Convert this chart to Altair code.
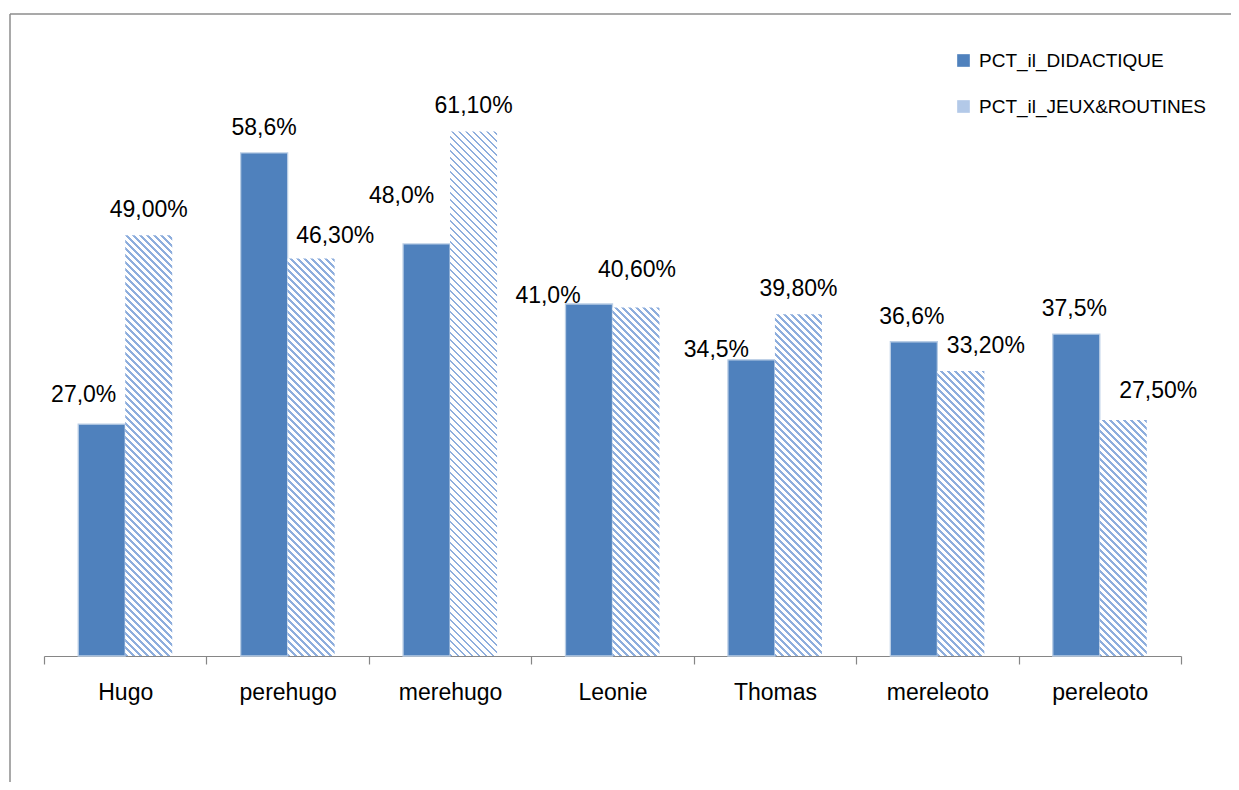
import altair as alt
import pandas as pd

categories = ["Hugo", "perehugo", "merehugo", "Leonie", "Thomas", "mereleoto", "pereleoto"]
series_names = ["PCT_il_DIDACTIQUE", "PCT_il_JEUX&ROUTINES"]
didactique = [27.0, 58.6, 48.0, 41.0, 34.5, 36.6, 37.5]
jeux_routines = [49.0, 46.3, 61.1, 40.6, 39.8, 33.2, 27.5]
didactique_labels = ["27,0%", "58,6%", "48,0%", "41,0%", "34,5%", "36,6%", "37,5%"]
jeux_routines_labels = ["49,00%", "46,30%", "61,10%", "40,60%", "39,80%", "33,20%", "27,50%"]

# hand-placed label nudges in the source chart (px: dx, dy)
didactique_nudge = [(-18, -4), (0, 0), (-25, -23), (-41, 17), (-35, 15), (-2, 0), (-2, 0)]
jeux_nudge = [(0, 0), (24, 3), (0, 0), (1, -12), (0, 0), (25, 0), (35, -4)]

rows = []
for i, c in enumerate(categories):
    rows.append(dict(cat=c, series=series_names[0], value=didactique[i],
                     label=didactique_labels[i], idx=i))
    rows.append(dict(cat=c, series=series_names[1], value=jeux_routines[i],
                     label=jeux_routines_labels[i], idx=i))
df = pd.DataFrame(rows)

W, H, YMAX = 1137, 601, 70
OUTER = 0.728
SUB_W = W / len(categories) / (2 + 2 * OUTER)
FONT = "Liberation Sans"
BLUE = "#4F81BD"
STRIPE = "#8EAEDD"
PERIOD = 7.0
STRIPE_FRAC = 0.4

x_enc = alt.X("cat:N", sort=categories, title=None,
              scale=alt.Scale(paddingInner=0, paddingOuter=0),
              axis=alt.Axis(labelAngle=0, labelFont=FONT, labelFontSize=23,
                            labelColor="black", labelBaseline="alphabetic",
                            labelPadding=35, tickBand="extent", tickSize=8,
                            tickColor="#868686", domainColor="#868686",
                            tickWidth=1.2, domainWidth=1.2, grid=False))
xo_enc = alt.XOffset("series:N", sort=series_names,
                     scale=alt.Scale(domain=series_names, paddingInner=0,
                                     paddingOuter=OUTER))
y_enc = alt.Y("value:Q", scale=alt.Scale(domain=[0, YMAX]), axis=None)

base = alt.Chart(df)

solid = base.transform_filter(alt.datum.series == series_names[0]).mark_bar(
    stroke="#B9CDE5", strokeWidth=1.3
).encode(
    x=x_enc, xOffset=xo_enc, y=y_enc,
    color=alt.Color("series:N",
                    scale=alt.Scale(domain=series_names, range=[BLUE, "#B3C9E8"]),
                    legend=alt.Legend(title=None, orient="none", legendX=910, legendY=-4,
                                      symbolType="square", symbolSize=160,
                                      symbolStrokeWidth=0, labelFont=FONT,
                                      labelFontSize=19, labelColor="black",
                                      labelOffset=6, rowPadding=26,
                                      labelLimit=400)),
)


def hatch(h):
    w = SUB_W
    k = (w + h) / (w * w + h * h)
    span = w + h
    stops = []
    pos = 0.0
    while pos < span:
        a = pos / span
        b = min((pos + PERIOD * STRIPE_FRAC) / span, 1)
        c = min((pos + PERIOD) / span, 1)
        stops += [alt.GradientStop(offset=a, color=STRIPE),
                  alt.GradientStop(offset=b, color=STRIPE),
                  alt.GradientStop(offset=b, color="white"),
                  alt.GradientStop(offset=c, color="white")]
        pos += PERIOD
    return alt.LinearGradient(gradient="linear", stops=stops,
                              x1=0, y1=1, x2=k * w, y2=1 - k * h)


layers = [solid]
for i, v in enumerate(jeux_routines):
    h = v / YMAX * H
    layers.append(
        base.transform_filter((alt.datum.series == series_names[1]) & (alt.datum.idx == i))
        .mark_bar(fill=hatch(h), strokeWidth=0)
        .encode(x=x_enc, xOffset=xo_enc, y=y_enc)
    )

for s, nudges in zip(series_names, [didactique_nudge, jeux_nudge]):
    for i, (ndx, ndy) in enumerate(nudges):
        layers.append(
            base.transform_filter((alt.datum.series == s) & (alt.datum.idx == i))
            .mark_text(font=FONT, fontSize=23, color="black", baseline="alphabetic",
                       align="center", dx=ndx, dy=-18 + ndy)
            .encode(x=x_enc, xOffset=xo_enc, y=y_enc, text="label:N")
        )

frame_df = pd.DataFrame({"k": [0]})
frame_left = alt.Chart(frame_df).mark_rule(color="#8C8C8C", strokeWidth=1.5).encode(
    x=alt.value(-34), y=alt.value(-41), y2=alt.value(H + 200))
frame_top = alt.Chart(frame_df).mark_rule(color="#8C8C8C", strokeWidth=1.5).encode(
    x=alt.value(-34), x2=alt.value(W + 100), y=alt.value(-41))
layers += [frame_left, frame_top]

chart = alt.layer(*layers).properties(
    width=W, height=H,
    autosize=alt.AutoSizeParams(type="none"),
    padding={"left": 36, "top": 47, "right": 50, "bottom": 126},
).configure_view(stroke=None)

chart.save("out.html", embed_options={"renderer": "svg", "actions": False})
